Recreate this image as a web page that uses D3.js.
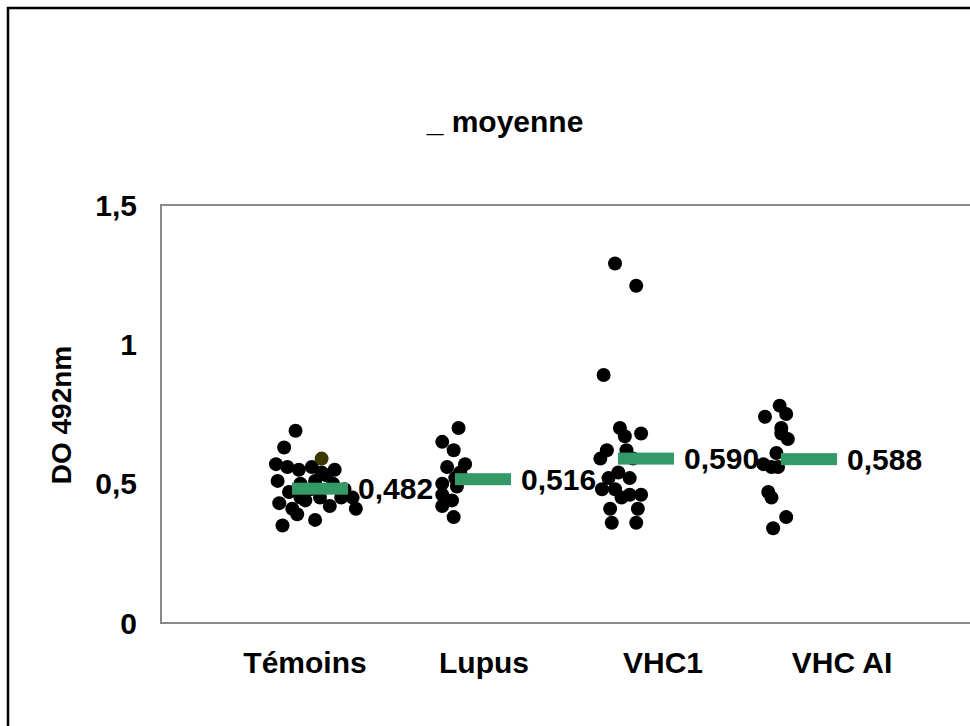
<!DOCTYPE html>
<html>
<head>
<meta charset="utf-8">
<script src="https://cdn.jsdelivr.net/npm/d3@7"></script>
<style>
  body { margin: 0; background: #fff; }
  svg text { font-family: "Liberation Sans", Arial, sans-serif; font-weight: bold; fill: #000; }
</style>
</head>
<body>
<div id="chart"></div>
<script>
const width = 970;
const height = 726;

// categories, means, ticks
const categories = ["Témoins", "Lupus", "VHC1", "VHC AI"];
const means = [0.482, 0.516, 0.590, 0.588];
const meanLabels = ["0,482", "0,516", "0,590", "0,588"];
const yTicks = [0, 0.5, 1, 1.5];
const yTickLabels = ["0", "0,5", "1", "1,5"];

// individual values (DO 492nm) and horizontal jitter (in category units)
const temoinsValues = [0.69, 0.63, 0.57, 0.56, 0.55, 0.56, 0.54, 0.55, 0.51, 0.50, 0.51, 0.50, 0.48,
	0.43, 0.41, 0.44, 0.45, 0.42, 0.45, 0.45, 0.41, 0.35, 0.37, 0.39, 0.45, 0.48, 0.53, 0.47];
const temoinsJitter = [-0.15, -0.22, -0.27, -0.20, -0.13, -0.05, 0.01, 0.09, -0.26, -0.12, -0.03, 0.08, 0.15,
	-0.25, -0.17, -0.09, 0.00, 0.06, 0.13, 0.20, 0.22, -0.23, -0.03, -0.14, -0.12, -0.06, 0.04, -0.19];
const temoinsOdd = [0.59];
const temoinsOddJitter = [0.01];
const lupusValues = [0.70, 0.65, 0.62, 0.57, 0.56, 0.54, 0.50, 0.49, 0.46, 0.44, 0.42, 0.38, 0.52];
const lupusJitter = [-0.15, -0.25, -0.18, -0.11, -0.22, -0.14, -0.25, -0.16, -0.25, -0.19, -0.25, -0.18, -0.17];
const vhc1Values = [1.29, 1.21, 0.89, 0.70, 0.67, 0.68, 0.62, 0.62, 0.59, 0.59, 0.52, 0.54, 0.52,
	0.48, 0.48, 0.45, 0.46, 0.46, 0.41, 0.41, 0.36, 0.36];
const vhc1Jitter = [-0.19, -0.06, -0.26, -0.16, -0.13, -0.03, -0.24, -0.12, -0.08, -0.28, -0.23, -0.17, -0.10,
	-0.27, -0.19, -0.15, -0.10, -0.03, -0.22, -0.05, -0.21, -0.06];
const vhcAiValues = [0.78, 0.74, 0.75, 0.70, 0.68, 0.66, 0.61, 0.57, 0.56, 0.56, 0.47, 0.45, 0.38, 0.34];
const vhcAiJitter = [-0.18, -0.27, -0.14, -0.17, -0.17, -0.13, -0.20, -0.28, -0.23, -0.19, -0.25, -0.23, -0.14, -0.22];

const groups = [
	{values: vhc1Values, jitter: vhc1Jitter, cat: 2},
	{values: lupusValues, jitter: lupusJitter, cat: 1},
	{values: vhcAiValues, jitter: vhcAiJitter, cat: 3},
	{values: temoinsValues, jitter: temoinsJitter, cat: 0}
];

const plot = {left: 161, top: 205, bottom: 623, right: 972};
const fontSize = "30px";

let svg = d3.select("#chart").append("svg")
	.attr("width", width)
	.attr("height", height);

// scatter x: category index (+ jitter)
let x = d3.scaleLinear().domain([0, 3]).range([320, 809]);
// category axis labels
let xLab = d3.scalePoint().domain(categories).range([305, 842]);
let y = d3.scaleLinear().domain([0, 1.5]).range([plot.bottom, plot.top]);

// outer frame (only top & left visible)
svg.append("path")
	.attr("d", "M8,726 V8 H970")
	.attr("fill", "none")
	.attr("stroke", "#000")
	.attr("stroke-width", 2.5);

// plot area border
svg.append("path")
	.attr("d", "M" + plot.right + "," + plot.top + " H" + plot.left + " V" + plot.bottom + " H" + plot.right)
	.attr("fill", "none")
	.attr("stroke", "#898989")
	.attr("stroke-width", 2);

// y tick labels
svg.selectAll(".ytick")
	.data(yTicks)
	.enter().append("text")
	.attr("class", "ytick")
	.attr("x", plot.left - 24)
	.attr("y", d => y(d))
	.attr("dy", "0.35em")
	.attr("text-anchor", "end")
	.style("font-size", fontSize)
	.text((d, i) => yTickLabels[i]);

// x category labels
svg.selectAll(".xlab")
	.data(categories)
	.enter().append("text")
	.attr("class", "xlab")
	.attr("x", d => xLab(d))
	.attr("y", 673)
	.attr("text-anchor", "middle")
	.style("font-size", fontSize)
	.text(d => d);

// title
svg.append("text")
	.attr("x", 505)
	.attr("y", 132)
	.attr("text-anchor", "middle")
	.style("font-size", fontSize)
	.text("_ moyenne");

// y axis title
svg.append("text")
	.attr("transform", "translate(71,415) rotate(-90)")
	.attr("text-anchor", "middle")
	.style("font-size", "28px")
	.text("DO 492nm");

// dots
let dots = [];
groups.forEach(g => {
	g.values.forEach((v, i) => dots.push({x: g.cat + g.jitter[i], v: v, c: "#000"}));
});
temoinsOdd.forEach((v, i) => dots.push({x: temoinsOddJitter[i], v: v, c: "#3a3800"}));

svg.selectAll(".dot")
	.data(dots)
	.enter().append("circle")
	.attr("class", "dot")
	.attr("cx", d => x(d.x))
	.attr("cy", d => y(d.v))
	.attr("r", 7)
	.attr("fill", d => d.c);

// mean bars
const barHalf = 0.172;
svg.selectAll(".mean")
	.data(means)
	.enter().append("rect")
	.attr("class", "mean")
	.attr("x", (d, i) => x(i - barHalf))
	.attr("width", (d, i) => x(i + barHalf) - x(i - barHalf))
	.attr("y", d => y(d) - 6)
	.attr("height", 12)
	.attr("fill", "#339966");

svg.selectAll(".meanlab")
	.data(means)
	.enter().append("text")
	.attr("class", "meanlab")
	.attr("x", (d, i) => x(i + barHalf) + 10)
	.attr("y", d => y(d))
	.attr("dy", "0.35em")
	.style("font-size", fontSize)
	.text((d, i) => meanLabels[i]);
</script>
</body>
</html>
